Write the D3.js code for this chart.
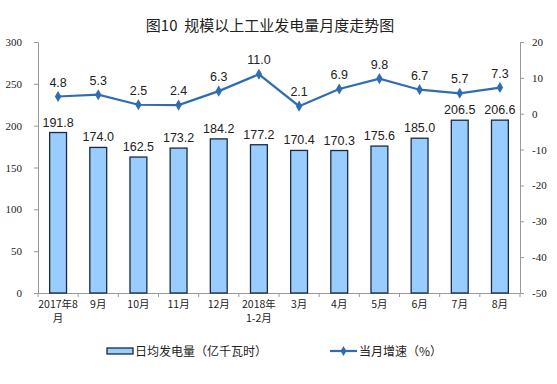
<!DOCTYPE html>
<html><head><meta charset="utf-8">
<script src="https://cdn.jsdelivr.net/npm/d3@7"></script>
<style>body{margin:0;background:#fff;}svg{display:block;}</style>
</head><body>
<svg id="c" width="557" height="384"></svg>
<script>
const categories = [["2017年8","月"],["9月"],["10月"],["11月"],["12月"],["2018年","1-2月"],["3月"],["4月"],["5月"],["6月"],["7月"],["8月"]];
const dailyOutput = [191.8,174.0,162.5,173.2,184.2,177.2,170.4,170.3,175.6,185.0,206.5,206.6];
const growth = [4.8,5.3,2.5,2.4,6.3,11.0,2.1,6.9,9.8,6.7,5.7,7.3];
const leftTicks = [0,50,100,150,200,250,300];
const rightTicks = [-50,-40,-30,-20,-10,0,10,20];
const title = "图10  规模以上工业发电量月度走势图";
const legendBar = "日均发电量（亿千瓦时）";
const legendLine = "当月增速（%）";

const svg = d3.select("#c");
const L = 38, R = 520, T = 42, B = 293;
const idx = d3.range(categories.length);
const x = d3.scaleBand().domain(idx).range([L, R]).paddingInner(0.58).paddingOuter(0.29);
const yL = d3.scaleLinear().domain([0,300]).range([B,T]);
const yR = d3.scaleLinear().domain([-50,20]).range([B,T]);
const cjk = "'Noto Sans CJK SC', sans-serif";
const serif = "'Liberation Serif', 'DejaVu Serif', serif";
const sans = "'Liberation Sans', Arial, sans-serif";

svg.append("text").attr("x", 270).attr("y", 31).attr("text-anchor","middle").attr("xml:space","preserve")
  .style("white-space","pre")
  .attr("font-family", cjk).attr("font-size", 15).attr("fill","#222").text(title);

// left axis
const gl = svg.append("g").attr("transform",`translate(${L},0)`)
  .call(d3.axisLeft(yL).tickValues(leftTicks).tickFormat(d => String(d)).tickSize(4).tickPadding(12));
gl.select(".domain").attr("stroke","#999");
gl.selectAll(".tick line").attr("stroke","#999");
gl.selectAll("text").attr("font-family", serif).attr("font-size", 11).attr("fill","#222");

// right axis
const gr = svg.append("g").attr("transform",`translate(${R},0)`)
  .call(d3.axisRight(yR).tickValues(rightTicks).tickFormat(d => String(d)).tickSize(4).tickPadding(8));
gr.select(".domain").attr("stroke","#999");
gr.selectAll(".tick line").attr("stroke","#999");
gr.selectAll("text").attr("font-family", serif).attr("font-size", 11).attr("fill","#222");

// bottom axis
svg.append("line").attr("x1",L).attr("x2",R).attr("y1",B+0.5).attr("y2",B+0.5).attr("stroke","#999");
svg.append("g").selectAll("line").data(d3.range(categories.length+1)).join("line")
  .attr("x1", i => L + (R-L)*i/categories.length).attr("x2", i => L + (R-L)*i/categories.length)
  .attr("y1", B).attr("y2", B+4).attr("stroke","#999");

// bars
svg.append("g").selectAll("rect").data(dailyOutput).join("rect")
  .attr("x",(d,i)=>x(i)).attr("width",x.bandwidth())
  .attr("y",d=>yL(d)).attr("height",d=>B-yL(d))
  .attr("fill","#99CCFF").attr("stroke","#1a2a44").attr("stroke-width",1.3);

svg.append("g").selectAll("text").data(dailyOutput).join("text")
  .attr("x",(d,i)=>x(i)+x.bandwidth()/2).attr("y",d=>yL(d)-6)
  .attr("text-anchor","middle").attr("font-family",sans).attr("font-size",12.5).attr("fill","#222")
  .text(d=>d.toFixed(1));

// line
const cx = i => x(i)+x.bandwidth()/2;
svg.append("path").datum(growth)
  .attr("d", d3.line().x((d,i)=>cx(i)).y(d=>yR(d)))
  .attr("fill","none").attr("stroke","#2E6DB4").attr("stroke-width",2.2);
svg.append("g").selectAll("path").data(growth).join("path")
  .attr("d", d3.symbol(d3.symbolDiamond, 36)())
  .attr("transform",(d,i)=>`translate(${cx(i)},${yR(d)})`).attr("fill","#2E6DB4");
svg.append("g").selectAll("text").data(growth).join("text")
  .attr("x",(d,i)=>cx(i)).attr("y",d=>yR(d)-10)
  .attr("text-anchor","middle").attr("font-family",sans).attr("font-size",12.5).attr("fill","#222")
  .text(d=>d.toFixed(1));

// category labels (one text element per line)
const catLines = [];
categories.forEach((d,i)=>d.forEach((s,k)=>catLines.push({i, k, s})));
svg.append("g").selectAll("text").data(catLines).join("text")
  .attr("x",d=>cx(d.i)).attr("y",d=>308 + d.k*14).attr("text-anchor","middle")
  .attr("font-family",cjk).attr("font-size",10.5).attr("fill","#222").text(d=>d.s);

// legend
svg.append("rect").attr("x",107).attr("y",348).attr("width",26).attr("height",6)
  .attr("fill","#99CCFF").attr("stroke","#1a2a44").attr("stroke-width",1.3);
svg.append("text").attr("x",135).attr("y",356).attr("font-family",cjk).attr("font-size",12).attr("fill","#222").text(legendBar);
svg.append("line").attr("x1",330).attr("x2",357).attr("y1",351).attr("y2",351).attr("stroke","#2E6DB4").attr("stroke-width",2.2);
svg.append("path").attr("d",d3.symbol(d3.symbolDiamond,30)()).attr("transform","translate(343.5,351)").attr("fill","#2E6DB4");
svg.append("text").attr("x",359).attr("y",356).attr("font-family",cjk).attr("font-size",12).attr("fill","#222").text(legendLine);
</script>
</body></html>
